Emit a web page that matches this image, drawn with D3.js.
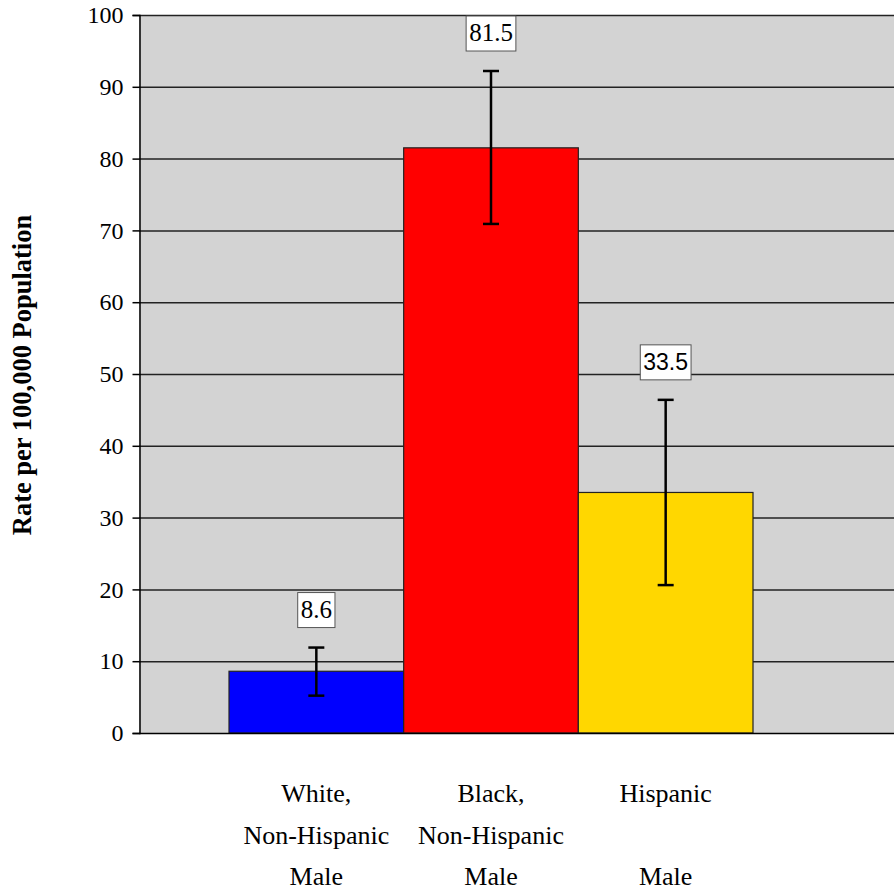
<!DOCTYPE html>
<html>

<head>
    <style>
        body {
            margin: 0;
            background: #fff;
        }
    </style>
    <script src="https://d3js.org/d3.v7.min.js"></script>
    <title>Rate per 100,000 Population</title>
</head>

<body>
    <svg width="894" height="892"></svg>
    <script>
        // chart data
        var categories = ["White, Non-Hispanic Male", "Black, Non-Hispanic Male", "Hispanic Male"];
        var labelLines = [["White,", "Non-Hispanic", "Male"], ["Black,", "Non-Hispanic", "Male"], ["Hispanic", "", "Male"]];
        var rates = [8.6, 81.5, 33.5];
        var lowerCI = [5.2, 70.9, 20.6];
        var upperCI = [11.9, 92.2, 46.4];
        var barColors = ["#0000ff", "#ff0000", "#ffd700"];
        var yTicks = [0, 10, 20, 30, 40, 50, 60, 70, 80, 90, 100];

        var serif = "'Liberation Serif', 'Times New Roman', serif";
        var sans = "'Liberation Sans', Arial, sans-serif";
        var labelFonts = [serif, serif, sans];

        var svg = d3.select("svg"),
            plotLeft = 139,
            plotRight = 894,
            plotTop = 15,
            plotBottom = 733;

        var x = d3.scaleBand().domain(categories).range([229, 753]).padding(0),
            y = d3.scaleLinear().domain([0, 100]).range([plotBottom, plotTop]);

        // plot background
        svg.append("rect")
            .attr("x", plotLeft)
            .attr("y", plotTop)
            .attr("width", plotRight - plotLeft)
            .attr("height", plotBottom - plotTop)
            .attr("fill", "#d3d3d3");

        // gridlines
        svg.append("g")
            .selectAll("line")
            .data(yTicks.filter(function (d) { return d > 0; }))
            .enter()
            .append("line")
            .attr("x1", plotLeft)
            .attr("x2", plotRight)
            .attr("y1", function (d) { return y(d) + 0.5; })
            .attr("y2", function (d) { return y(d) + 0.5; })
            .attr("stroke", "#222")
            .attr("stroke-width", 1.5);

        // bars
        svg.selectAll(".bar")
            .data(rates)
            .enter()
            .append("rect")
            .attr("class", "bar")
            .attr("x", function (d, i) { return x(categories[i]); })
            .attr("y", function (d) { return y(d); })
            .attr("width", x.bandwidth())
            .attr("height", function (d) { return y(0) - y(d); })
            .attr("fill", function (d, i) { return barColors[i]; })
            .attr("stroke", "#222")
            .attr("stroke-width", 1.2);

        // error bars
        var err = svg.append("g")
            .attr("stroke", "#000")
            .attr("stroke-width", 2.5);
        rates.forEach(function (d, i) {
            var cx = x(categories[i]) + x.bandwidth() / 2;
            err.append("line")
                .attr("x1", cx).attr("x2", cx)
                .attr("y1", y(upperCI[i])).attr("y2", y(lowerCI[i]));
            err.append("line")
                .attr("x1", cx - 8).attr("x2", cx + 8)
                .attr("y1", y(upperCI[i])).attr("y2", y(upperCI[i]));
            err.append("line")
                .attr("x1", cx - 8).attr("x2", cx + 8)
                .attr("y1", y(lowerCI[i])).attr("y2", y(lowerCI[i]));
        });

        // value labels in boxes
        rates.forEach(function (d, i) {
            var cx = x(categories[i]) + x.bandwidth() / 2;
            var cy = y(upperCI[i]) - 38;
            var g = svg.append("g");
            var box = g.append("rect")
                .attr("fill", "#fff")
                .attr("stroke", "#555")
                .attr("stroke-width", 1);
            var t = g.append("text")
                .attr("x", cx)
                .attr("y", cy + 8)
                .attr("text-anchor", "middle")
                .style("font-family", labelFonts[i])
                .style("font-size", i == 2 ? "23px" : "25px")
                .style("fill", "#000")
                .text(d);
            var w = t.node().getComputedTextLength();
            box.attr("x", cx - w / 2 - 3)
                .attr("y", cy - 17)
                .attr("width", w + 6)
                .attr("height", 35);
        });

        // y axis
        var yAxis = svg.append("g")
            .attr("transform", "translate(" + (plotLeft + 0.5) + ",0)")
            .call(d3.axisLeft(y).tickValues(yTicks).tickSize(7).tickPadding(9));
        yAxis.select(".domain").attr("stroke", "#000").attr("stroke-width", 1.5);
        yAxis.selectAll(".tick line").attr("stroke", "#000").attr("stroke-width", 1.5);
        yAxis.selectAll(".tick text")
            .style("font-family", serif)
            .style("font-size", "24px")
            .style("fill", "#000");

        // x axis line
        svg.append("line")
            .attr("x1", plotLeft)
            .attr("x2", plotRight)
            .attr("y1", y(0) + 0.5)
            .attr("y2", y(0) + 0.5)
            .attr("stroke", "#000")
            .attr("stroke-width", 1.5);

        // category labels
        labelLines.forEach(function (lines, i) {
            var cx = x(categories[i]) + x.bandwidth() / 2;
            lines.forEach(function (s, j) {
                svg.append("text")
                    .attr("x", cx)
                    .attr("y", 802 + j * 41.5)
                    .attr("text-anchor", "middle")
                    .style("font-family", serif)
                    .style("font-size", "26px")
                    .text(s);
            });
        });

        // y axis title
        svg.append("text")
            .attr("transform", "translate(31,375) rotate(-90)")
            .attr("text-anchor", "middle")
            .style("font-family", serif)
            .style("font-weight", "bold")
            .style("font-size", "26.5px")
            .text("Rate per 100,000 Population");
    </script>
</body>

</html>
